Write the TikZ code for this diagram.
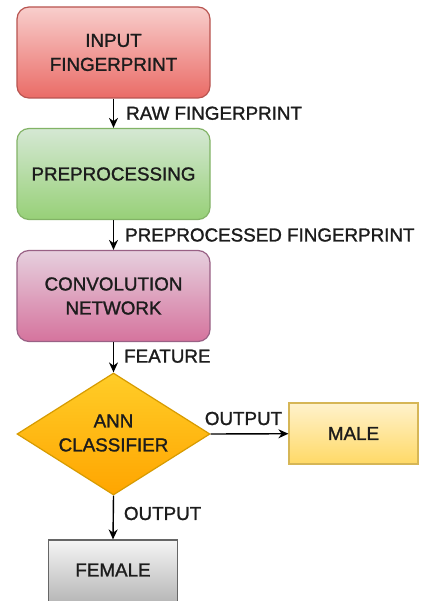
\documentclass[tikz,border=0pt]{standalone}
\usepackage{fontspec}
\setmainfont{Liberation Sans}
\newfontfamily\labelfont{Liberation Sans}[FakeBold=1.3]
\usetikzlibrary{shapes.geometric,arrows.meta}

\definecolor{txtc}{HTML}{1C1C1C}
\definecolor{redA}{HTML}{F8CECC}\definecolor{redB}{HTML}{EA6B66}\definecolor{redL}{HTML}{B85450}
\definecolor{grnA}{HTML}{D5E8D4}\definecolor{grnB}{HTML}{97D077}\definecolor{grnL}{HTML}{82B366}
\definecolor{purA}{HTML}{E6D0DE}\definecolor{purB}{HTML}{D5739D}\definecolor{purL}{HTML}{996185}
\definecolor{orgA}{HTML}{FFCD28}\definecolor{orgB}{HTML}{FFA500}\definecolor{orgL}{HTML}{D79B00}
\definecolor{ylwA}{HTML}{FFF2CC}\definecolor{ylwB}{HTML}{FFD966}\definecolor{ylwL}{HTML}{D6B656}
\definecolor{gryA}{HTML}{F5F5F5}\definecolor{gryB}{HTML}{B3B3B3}\definecolor{gryL}{HTML}{666666}

\tikzset{
  txt/.style={text=txtc, font=\labelfont\fontsize{18.8}{24}\selectfont, align=center, inner sep=0pt},
  procbox/.style={txt, draw, line width=1.2pt, rounded corners=12pt,
    minimum width=193pt, minimum height=91pt},
  outbox/.style={txt, draw, line width=1.2pt,
    minimum width=129pt, minimum height=61pt},
  decision/.style={diamond, draw=orgL, line width=1.2pt, top color=orgA, bottom color=orgB,
    minimum width=193pt, minimum height=122pt, inner sep=0pt},
  flow/.style={-{Stealth[length=10pt,width=9pt]}, line width=1.4pt, black},
  lbl/.style={txt}
}

\begin{document}
\begin{tikzpicture}[x=1pt,y=-1pt]
  \clip (0,0) rectangle (421,601);
  \fill[white] (0,0) rectangle (421,601);

  \node[procbox, draw=redL, top color=redA, bottom color=redB] (inp) at (113.5,52.5) {INPUT\\FINGERPRINT};
  \node[procbox, draw=grnL, top color=grnA, bottom color=grnB] (pre) at (113.5,174) {PREPROCESSING};
  \node[procbox, draw=purL, top color=purA, bottom color=purB] (cnn) at (113.5,296) {CONVOLUTION\\NETWORK};
  \node[decision] (cls) at (113.5,434) {};
  \node[txt] (clstxt) at (113.5,433) {ANN\\CLASSIFIER};
  \node[outbox, draw=ylwL, top color=ylwA, bottom color=ylwB] (male) at (353.5,433.5) {MALE};
  \node[outbox, draw=gryL, top color=gryA, bottom color=gryB, minimum height=66pt] (fem) at (113,573) {};
  \node[txt] (femtxt) at (113,570) {FEMALE};

  \draw[flow] (inp) -- node[lbl, anchor=west, xshift=12pt] (l1) {RAW FINGERPRINT} (pre);
  \draw[flow] (pre) -- node[lbl, anchor=west, xshift=11pt] (l2) {PREPROCESSED FINGERPRINT} (cnn);
  \draw[flow] (cnn) -- node[lbl, anchor=west, xshift=10pt, yshift=1pt] (l3) {FEATURE} (cls);
  \draw[flow] (cls.east) -- node[lbl, anchor=south, xshift=-6pt, yshift=8pt] (l4) {OUTPUT} (male);
  \draw[flow] (cls.south) -- node[lbl, anchor=west, xshift=10pt, yshift=4pt] (l5) {OUTPUT} (fem.north);
\end{tikzpicture}
\end{document}
